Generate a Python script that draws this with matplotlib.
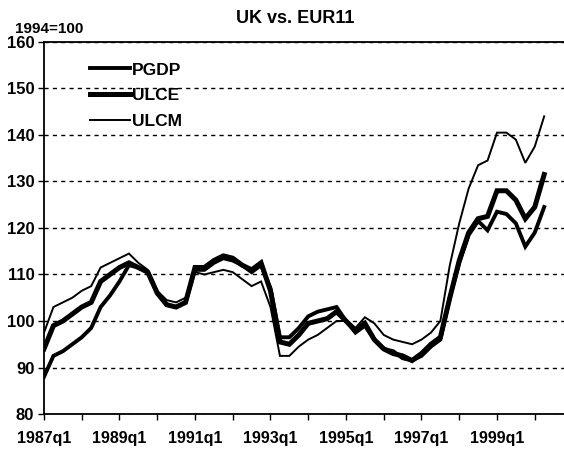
import matplotlib
matplotlib.use("Agg")
import matplotlib.pyplot as plt
from matplotlib.ticker import MultipleLocator, FixedLocator

# quarterly index, 1987q1 .. 2000q2 (1994=100)
quarters = [f"{1987 + i // 4}q{i % 4 + 1}" for i in range(54)]

pgdp = [88, 92.5, 93.5, 95, 96.5, 98.5, 103, 105.5, 108.5, 112,
        111.5, 110.5, 106, 103.5, 103, 104, 111, 111, 112.5, 113.5,
        113, 112, 110.5, 112, 107, 96.5, 96.5, 98.5, 101, 102,
        102.5, 103, 100, 97.5, 99, 96, 94, 93.5, 92, 91.5,
        92.5, 94.5, 96, 105, 112.5, 118.5, 121.5, 119.5, 123.5, 123,
        121, 116, 119, 124.5]
ulce = [94, 99, 100, 101.5, 103, 104, 108.5, 110, 111.5, 112.5,
        111.5, 110.5, 106, 103.5, 103, 104, 111.5, 111.5, 113, 114,
        113.5, 112, 111, 112.5, 106.5, 95.5, 95, 97, 99.5, 100,
        100.5, 102, 100, 98, 99.5, 96, 94, 93, 92.5, 91.5,
        93, 95, 96.5, 105, 113, 119, 122, 122.5, 128, 128,
        126, 122, 124.5, 131.5]
ulcm = [97.5, 103, 104, 105, 106.5, 107.5, 111.5, 112.5, 113.5, 114.5,
        112.5, 111, 106.5, 104.5, 104, 105, 110.5, 110, 110.5, 111,
        110.5, 109, 107.5, 108.5, 103, 92.5, 92.5, 94.5, 96, 97,
        98.5, 100, 100, 98.5, 100.8, 99.5, 97, 96, 95.5, 95,
        96, 97.5, 100, 112, 121, 128.5, 133.5, 134.5, 140.5, 140.5,
        139, 134, 137.5, 144]

series = [("PGDP", pgdp, 2.8), ("ULCE", ulce, 3.6), ("ULCM", ulcm, 1.4)]

plt.rcParams["font.family"] = ["Liberation Sans", "DejaVu Sans"]
plt.rcParams["font.weight"] = "bold"

fig = plt.figure(figsize=(5.64, 4.51), dpi=100)
ax = fig.add_axes([0.078, 0.082, 0.922, 0.825])

x = list(range(len(quarters)))
for name, vals, lw in series:
    ax.plot(x, vals, color="black", linewidth=lw, label=name,
            solid_joinstyle="miter")

ax.set_xlim(0, 55.1)
ax.set_ylim(80, 160)
ax.yaxis.set_major_locator(MultipleLocator(10))
ax.xaxis.set_major_locator(FixedLocator(range(0, 49, 8)))
ax.xaxis.set_minor_locator(FixedLocator(range(4, 53, 8)))
ax.set_xticklabels([quarters[i] for i in range(0, 49, 8)])

ax.yaxis.grid(True, color="black", linestyle=(0, (3, 3)), linewidth=1)
ax.set_axisbelow(True)

ax.spines["right"].set_visible(False)
for side in ["left", "bottom", "top"]:
    ax.spines[side].set_linewidth(1.3)

ax.tick_params(axis="both", which="both", direction="out", length=4,
               width=1, colors="black")
ax.tick_params(axis="y", labelsize=12, pad=3)
ax.tick_params(axis="x", labelsize=11.5, pad=8)

ax.legend(loc="upper left", bbox_to_anchor=(0.088, 0.945), frameon=False,
          fontsize=12.5, handlelength=2.3, handletextpad=0.15,
          labelspacing=0.6, borderpad=0, borderaxespad=0)

fig.text(0.523, 0.958, "UK vs. EUR11", ha="center", va="center",
         fontsize=13, fontweight="bold")
fig.text(0.027, 0.936, "1994=100", ha="left", va="center",
         fontsize=11, fontweight="bold")

fig.savefig("out.png", dpi=100)
